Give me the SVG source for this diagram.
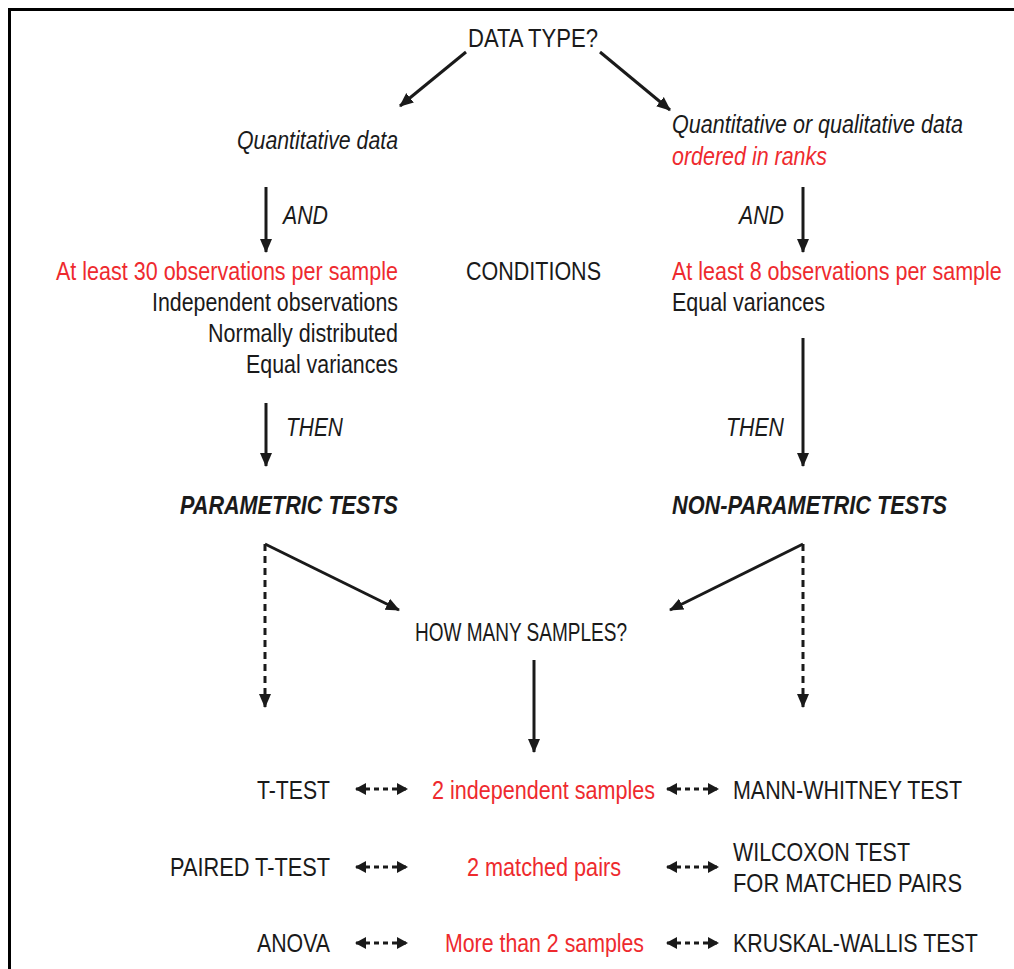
<svg xmlns="http://www.w3.org/2000/svg" width="1014" height="969" viewBox="0 0 1014 969">
<defs>
<style>
text{font-family:"Liberation Sans",Arial,sans-serif;font-size:25px;fill:#1a1a1a}
.r{fill:#ee2a2e}
.i{font-style:italic}
.b{font-weight:bold;font-style:italic}
.ln{stroke:#1a1a1a;stroke-width:3;fill:none}
.d{stroke-dasharray:7,5}
.da{stroke:#1a1a1a;stroke-width:3;fill:none;stroke-dasharray:5,4}
</style>
<marker id="ah" viewBox="0 0 14 14" refX="13" refY="7" markerWidth="14" markerHeight="14" markerUnits="userSpaceOnUse" orient="auto">
<path d="M0,1 L14,7 L0,13 Z" fill="#1a1a1a"/>
</marker>
<marker id="bh" viewBox="0 0 11 12" refX="10" refY="6" markerWidth="11" markerHeight="12" markerUnits="userSpaceOnUse" orient="auto-start-reverse">
<path d="M0,0 L11,6 L0,12 Z" fill="#1a1a1a"/>
</marker>
</defs>
<rect width="1014" height="969" fill="#fff"/>
<path d="M9.5,969 V9.5 H1014" stroke="#000" stroke-width="3" fill="none"/>

<g id="connectors">
<line class="ln" x1="466" y1="52" x2="400" y2="106" marker-end="url(#ah)"/>
<line class="ln" x1="600" y1="52" x2="670" y2="110" marker-end="url(#ah)"/>
<line class="ln" x1="266" y1="187" x2="266" y2="252" marker-end="url(#ah)"/>
<line class="ln" x1="803" y1="187" x2="803" y2="252" marker-end="url(#ah)"/>
<line class="ln" x1="266" y1="403" x2="266" y2="466" marker-end="url(#ah)"/>
<line class="ln" x1="803" y1="338" x2="803" y2="466" marker-end="url(#ah)"/>
<line class="ln" x1="265" y1="544" x2="399" y2="610" marker-end="url(#ah)"/>
<line class="ln" x1="803" y1="544" x2="670" y2="610" marker-end="url(#ah)"/>
<line class="ln d" x1="265" y1="544" x2="265" y2="707" marker-end="url(#ah)"/>
<line class="ln d" x1="803" y1="544" x2="803" y2="707" marker-end="url(#ah)"/>
<line class="ln" x1="534" y1="660" x2="534" y2="752" marker-end="url(#ah)"/>
<g class="da">
<line x1="356" y1="789" x2="407" y2="789" marker-start="url(#bh)" marker-end="url(#bh)"/>
<line x1="667" y1="789" x2="718" y2="789" marker-start="url(#bh)" marker-end="url(#bh)"/>
<line x1="356" y1="867" x2="407" y2="867" marker-start="url(#bh)" marker-end="url(#bh)"/>
<line x1="667" y1="867" x2="718" y2="867" marker-start="url(#bh)" marker-end="url(#bh)"/>
<line x1="356" y1="943" x2="407" y2="943" marker-start="url(#bh)" marker-end="url(#bh)"/>
<line x1="667" y1="943" x2="718" y2="943" marker-start="url(#bh)" marker-end="url(#bh)"/>
</g>
</g>

<g id="n-datatype"><text x="468" y="47" textLength="130" lengthAdjust="spacingAndGlyphs">DATA TYPE?</text></g>
<g id="n-quant"><text class="i" x="237" y="149" textLength="161" lengthAdjust="spacingAndGlyphs">Quantitative data</text></g>
<g id="n-qual">
<text class="i" x="672" y="133" textLength="291" lengthAdjust="spacingAndGlyphs">Quantitative or qualitative data</text>
<text class="i r" x="672" y="165" textLength="155" lengthAdjust="spacingAndGlyphs">ordered in ranks</text>
</g>
<g id="n-and-l"><text class="i" x="283" y="224" textLength="45" lengthAdjust="spacingAndGlyphs">AND</text></g>
<g id="n-and-r"><text class="i" x="739" y="224" textLength="45" lengthAdjust="spacingAndGlyphs">AND</text></g>
<g id="n-cond-l">
<text class="r" x="56" y="280" textLength="342" lengthAdjust="spacingAndGlyphs">At least 30 observations per sample</text>
<text x="152" y="311" textLength="246" lengthAdjust="spacingAndGlyphs">Independent observations</text>
<text x="208" y="342" textLength="190" lengthAdjust="spacingAndGlyphs">Normally distributed</text>
<text x="246" y="373" textLength="152" lengthAdjust="spacingAndGlyphs">Equal variances</text>
</g>
<g id="n-conditions"><text x="466" y="280" textLength="135" lengthAdjust="spacingAndGlyphs">CONDITIONS</text></g>
<g id="n-cond-r">
<text class="r" transform="translate(672,280) scale(0.85,1)" x="0" y="0" textLength="388" lengthAdjust="spacingAndGlyphs">At least 8 observations per sample</text>
<text x="672" y="311" textLength="153" lengthAdjust="spacingAndGlyphs">Equal variances</text>
</g>
<g id="n-then-l"><text class="i" x="286" y="436" textLength="57" lengthAdjust="spacingAndGlyphs">THEN</text></g>
<g id="n-then-r"><text class="i" x="726" y="436" textLength="58" lengthAdjust="spacingAndGlyphs">THEN</text></g>
<g id="n-param"><text class="b" x="180" y="514" textLength="218" lengthAdjust="spacingAndGlyphs">PARAMETRIC TESTS</text></g>
<g id="n-nonparam"><text class="b" x="672" y="514" textLength="275" lengthAdjust="spacingAndGlyphs">NON-PARAMETRIC TESTS</text></g>
<g id="n-howmany"><text x="415" y="641" textLength="212" lengthAdjust="spacingAndGlyphs">HOW MANY SAMPLES?</text></g>

<g id="n-ttest"><text x="257" y="799" textLength="73" lengthAdjust="spacingAndGlyphs">T-TEST</text></g>
<g id="n-2ind"><text class="r" x="432" y="799" textLength="223" lengthAdjust="spacingAndGlyphs">2 independent samples</text></g>
<g id="n-mann"><text x="733" y="799" textLength="229" lengthAdjust="spacingAndGlyphs">MANN-WHITNEY TEST</text></g>
<g id="n-paired"><text x="170" y="876" textLength="160" lengthAdjust="spacingAndGlyphs">PAIRED T-TEST</text></g>
<g id="n-2match"><text class="r" x="467" y="876" textLength="154" lengthAdjust="spacingAndGlyphs">2 matched pairs</text></g>
<g id="n-wilcoxon">
<text x="733" y="861" textLength="177" lengthAdjust="spacingAndGlyphs">WILCOXON TEST</text>
<text x="733" y="892" textLength="229" lengthAdjust="spacingAndGlyphs">FOR MATCHED PAIRS</text>
</g>
<g id="n-anova"><text x="257" y="952" textLength="73" lengthAdjust="spacingAndGlyphs">ANOVA</text></g>
<g id="n-more2"><text class="r" x="445" y="952" textLength="199" lengthAdjust="spacingAndGlyphs">More than 2 samples</text></g>
<g id="n-kruskal"><text transform="translate(733,952) scale(0.85,1)" x="0" y="0" textLength="288" lengthAdjust="spacingAndGlyphs">KRUSKAL-WALLIS TEST</text></g>
</svg>
